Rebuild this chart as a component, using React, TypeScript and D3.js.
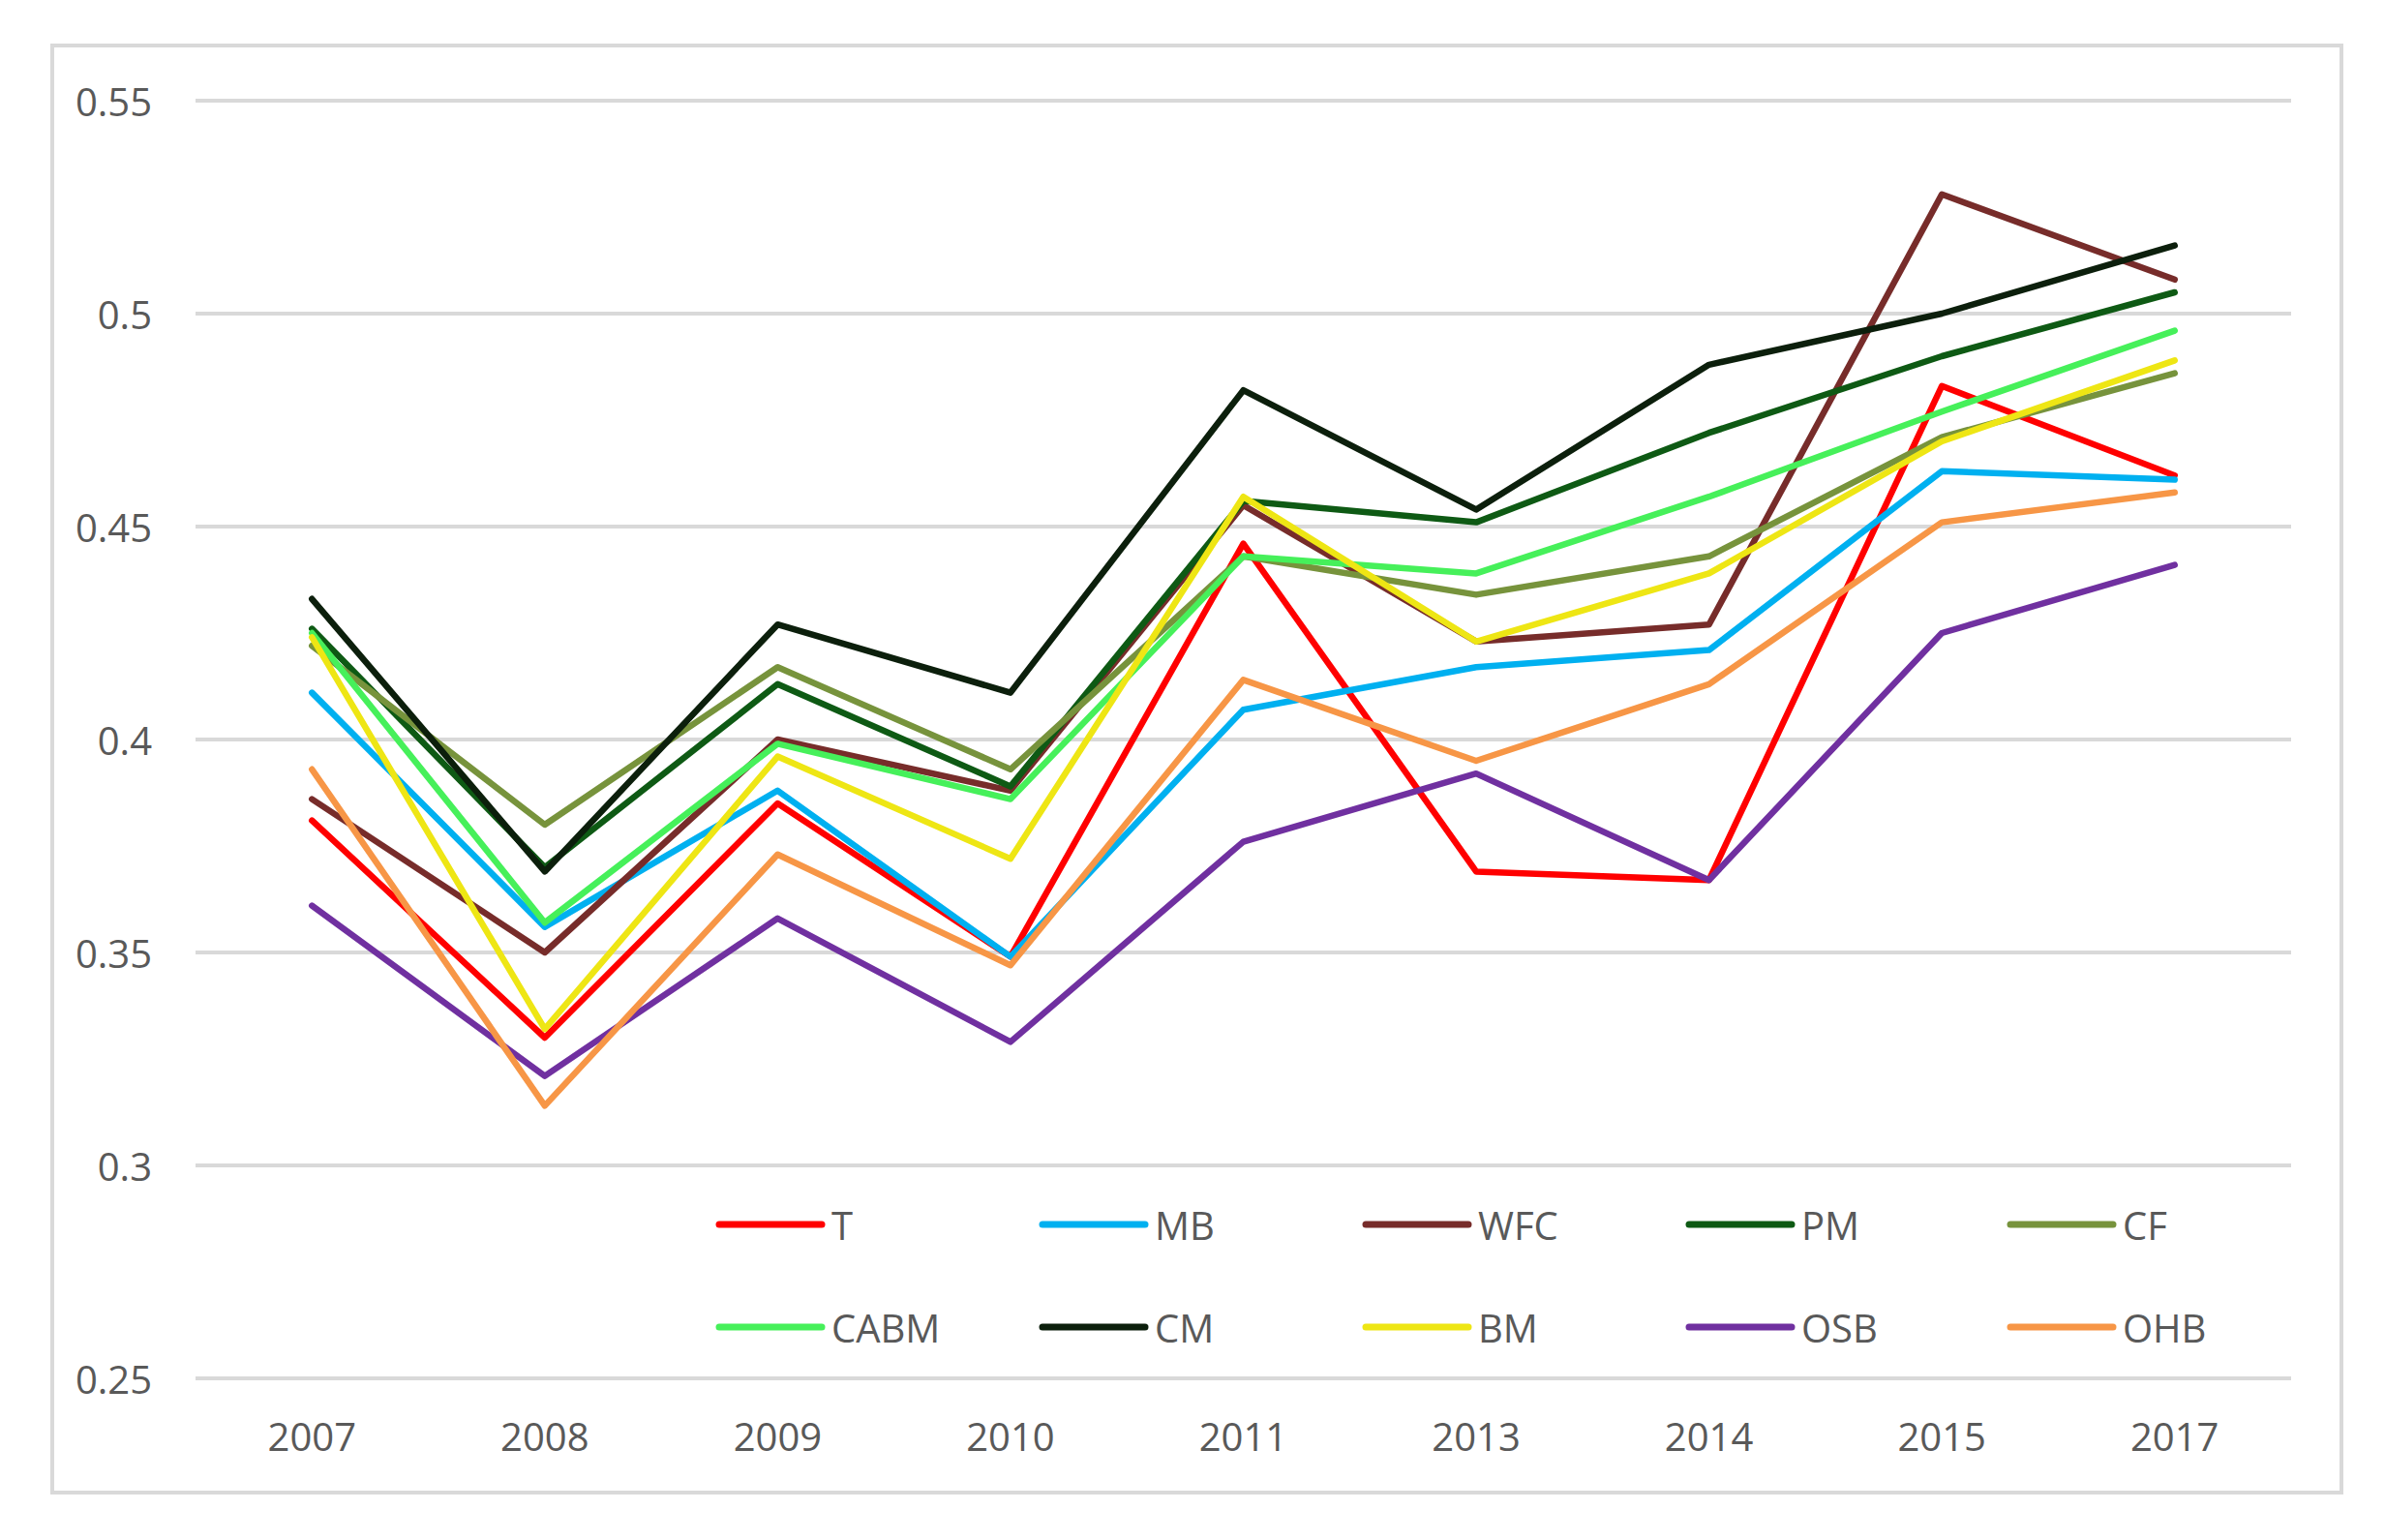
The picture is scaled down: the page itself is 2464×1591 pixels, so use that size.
import React from "react";
import * as d3 from "d3";

const categories = ["2007", "2008", "2009", "2010", "2011", "2013", "2014", "2015", "2017"];
const yTicks = [0.25, 0.3, 0.35, 0.4, 0.45, 0.5, 0.55];

const T = [0.381, 0.330, 0.385, 0.349, 0.446, 0.369, 0.367, 0.483, 0.462];
const MB = [0.411, 0.356, 0.388, 0.349, 0.407, 0.417, 0.421, 0.463, 0.461];
const WFC = [0.386, 0.350, 0.400, 0.388, 0.455, 0.423, 0.427, 0.528, 0.508];
const PM = [0.426, 0.370, 0.413, 0.389, 0.456, 0.451, 0.472, 0.490, 0.505];
const CF = [0.422, 0.380, 0.417, 0.393, 0.443, 0.434, 0.443, 0.471, 0.486];
const CABM = [0.425, 0.357, 0.399, 0.386, 0.443, 0.439, 0.457, 0.477, 0.496];
const CM = [0.433, 0.369, 0.427, 0.411, 0.482, 0.454, 0.488, 0.500, 0.516];
const BM = [0.424, 0.332, 0.396, 0.372, 0.457, 0.423, 0.439, 0.470, 0.489];
const OSB = [0.361, 0.321, 0.358, 0.329, 0.376, 0.392, 0.367, 0.425, 0.441];
const OHB = [0.393, 0.314, 0.373, 0.347, 0.414, 0.395, 0.413, 0.451, 0.458];

const seriesNames = ["T", "MB", "WFC", "PM", "CF", "CABM", "CM", "BM", "OSB", "OHB"];
const seriesValues = [T, MB, WFC, PM, CF, CABM, CM, BM, OSB, OHB];
const seriesColors = [
  "#FF0000", "#00B0F0", "#772C2A", "#0E5A14", "#77933C",
  "#46F05A", "#0C1F0C", "#EEE614", "#7030A0", "#F79646",
];

const W = 2464;
const H = 1591;
const FONT = "'Open Sans', 'Segoe UI', sans-serif";
const TXT = "#595959";
const GRID = "#D9D9D9";

export default function App() {
  const x = d3.scaleBand<string>().domain(categories).range([202, 2367]);
  const y = d3.scaleLinear().domain([0.25, 0.55]).range([1424, 104]);
  const line = d3
    .line<number>()
    .x((_, i) => (x(categories[i]) as number) + x.bandwidth() / 2)
    .y((d) => y(d));

  const legendCols = [743, 1077, 1411, 1745, 2077];
  const legendRows = [1265, 1371];

  return (
    <svg
      width={W}
      height={H}
      style={{ position: "absolute", left: 0, top: 0, background: "#fff" }}
      fontFamily={FONT}
    >
      <rect x={0} y={0} width={W} height={H} fill="#fff" />
      <rect x={54} y={47} width={2365} height={1495} fill="#fff" stroke={GRID} strokeWidth={4} />
      {yTicks.map((t) => (
        <g key={t}>
          <line x1={202} x2={2367} y1={y(t)} y2={y(t)} stroke={GRID} strokeWidth={4} />
          <text
            x={157}
            y={y(t)}
            textAnchor="end"
            dominantBaseline="central"
            fontSize={40}
            fill={TXT}
          >
            {String(t)}
          </text>
        </g>
      ))}
      {categories.map((c) => (
        <text
          key={c}
          x={(x(c) as number) + x.bandwidth() / 2}
          y={1499}
          textAnchor="middle"
          fontSize={40}
          fill={TXT}
        >
          {c}
        </text>
      ))}
      {seriesValues.map((vals, i) => (
        <path
          key={seriesNames[i]}
          d={line(vals) || ""}
          fill="none"
          stroke={seriesColors[i]}
          strokeWidth={6.5}
          strokeLinejoin="round"
          strokeLinecap="round"
        />
      ))}
      {seriesNames.map((n, i) => {
        const lx = legendCols[i % 5];
        const ly = legendRows[Math.floor(i / 5)];
        return (
          <g key={"lg" + n}>
            <line x1={lx} x2={lx + 106} y1={ly} y2={ly} stroke={seriesColors[i]} strokeWidth={7} strokeLinecap="round" />
            <text x={lx + 116} y={ly} dominantBaseline="central" fontSize={40} fill={TXT}>
              {n}
            </text>
          </g>
        );
      })}
    </svg>
  );
}
